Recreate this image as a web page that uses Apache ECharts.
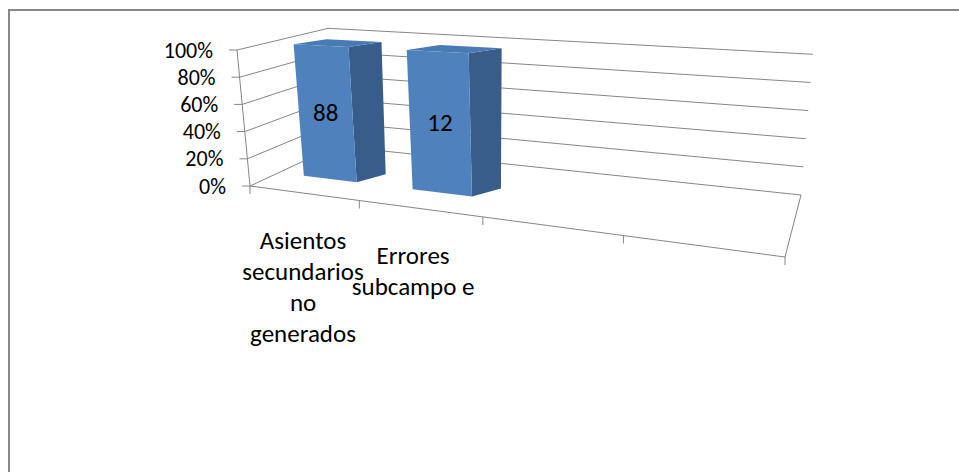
<!DOCTYPE html>
<html><head><meta charset="utf-8">
<script src="https://cdn.jsdelivr.net/npm/echarts@6/dist/echarts.min.js"></script>
<style>html,body{margin:0;padding:0;background:#fff}#c{width:959px;height:472px}</style>
</head><body><div id="c"></div>
<script>
// ---- data ----
const categories = ['Asientos\nsecundarios\nno\ngenerados', 'Errores\nsubcampo e', '', ''];
const dataLabels = [88, 12];          // numbers printed on the bars
const barShares = [100, 100];         // bar height in % (100% stacked column)
const yTicks = [0, 20, 40, 60, 80, 100];

// ---- layout / style ----
const FONT = 'Carlito, Calibri, Lato, sans-serif';
const FS = 25, FS_Y = 22;
const GRID = {left: 250, top: 50, width: 535, height: 136};
// 3D frame: floor plane corners (front-left, front-right, back-right, back-left)
const FLOOR = [[250,186],[785,257],[801,195],[336,146]];
const VVP = [542, 3239];      // vanishing point of verticals
const H_FRONT = 136.6;        // screen height of 100% at front-left corner
const BAR_W = 0.5, Z0 = 0.3;
const DEPTH_BOTTOM = [29,-8], DEPTH_TOP = [33,-5];   // visible depth of the columns

function squareToQuad(q){
  const [x0,y0]=q[0],[x1,y1]=q[1],[x2,y2]=q[2],[x3,y3]=q[3];
  const dx1=x1-x2, dx2=x3-x2, dx3=x0-x1+x2-x3;
  const dy1=y1-y2, dy2=y3-y2, dy3=y0-y1+y2-y3;
  const den=dx1*dy2-dx2*dy1;
  const g=(dx3*dy2-dx2*dy3)/den, h=(dx1*dy3-dx3*dy1)/den;
  const a=x1-x0+g*x1, b=x3-x0+h*x3, c=x0, d=y1-y0+g*y1, e=y3-y0+h*y3, f=y0;
  return (u,v)=>{const w=g*u+h*v+1; return [(a*u+b*v+c)/w,(d*u+e*v+f)/w,w];};
}
const H0 = squareToQuad(FLOOR);
function proj(u,v,t){
  const p = H0(u,v);
  const len = H_FRONT/p[2]*(1-0.04*u*v);
  const dx = p[0]-VVP[0], dy = p[1]-VVP[1], n = Math.hypot(dx,dy);
  return [p[0]+dx/n*len*t, p[1]+dy/n*len*t];
}
function norm(params, api, cat, val){
  const cs = params.coordSys; const p = api.coord([cat, val]);
  return [(p[0]-cs.x)/cs.width, (cs.y+cs.height-p[1])/cs.height];
}
const add = (p,d)=>[p[0]+d[0], p[1]+d[1]];
const LINE = '#868686';

const chart = echarts.init(document.getElementById('c'), null, {renderer:'svg'});
chart.setOption({
  animation: false,
  backgroundColor: '#fff',
  grid: {left: GRID.left, top: GRID.top, width: GRID.width, height: GRID.height},
  xAxis: {type:'category', data: categories, show:false},
  yAxis: {type:'value', min:0, max:100, interval:20, show:false},
  graphic: [{type:'rect', shape:{x:9, y:10, width:960, height:470}, style:{fill:'none', stroke:'#878787', lineWidth:2}, silent:true}],
  series: [
    { // wall gridlines + y ticks + y labels
      type:'custom', z:1, silent:true,
      data: yTicks.map(t=>[0,t]),
      renderItem(params, api){
        const t = norm(params, api, 0, api.value(1))[1];
        const a = proj(0,0,t), b = proj(0,1,t), c = proj(1,1,t);
        return {type:'group', children:[
          {type:'polyline', shape:{points:[a,b,c]}, style:{stroke:LINE, lineWidth:1, fill:null}},
          {type:'line', shape:{x1:a[0]-8, y1:a[1], x2:a[0], y2:a[1]}, style:{stroke:LINE, lineWidth:1}},
          {type:'text', style:{text: api.value(1)+'%', x:a[0]-24, y:a[1], align:'right', verticalAlign:'middle', lineHeight:24, fontSize:FS_Y, fontFamily:FONT, fill:'#000'}}
        ]};
      }
    },
    { // value axis line and floor edges
      type:'custom', z:2, silent:true,
      data: [[0,0]],
      renderItem(params, api){
        const b = norm(params, api, 0, 0)[1], tp = norm(params, api, 0, 100)[1];
        const p0 = proj(0,0,b), p1 = proj(0,0,tp);
        return {type:'group', children:[
          {type:'line', shape:{x1:p0[0], y1:p0[1], x2:p1[0], y2:p1[1]}, style:{stroke:LINE, lineWidth:1}},
          {type:'polyline', shape:{points:[proj(0,0,b), proj(1,0,b), proj(1,1,b)]}, style:{stroke:LINE, lineWidth:1, fill:null}}
        ]};
      }
    },
    { // category ticks and labels
      type:'custom', z:2, silent:true,
      data: categories.map((c,i)=>[i,0]),
      renderItem(params, api){
        const cs = params.coordSys;
        const i = api.value(0);
        const uc = norm(params, api, i, 0)[0];
        const bw = api.size([1,0])[0]/cs.width;
        const kids = [];
        const tickAt = (u)=>{const p=proj(u,0,0); kids.push({type:'line', shape:{x1:p[0], y1:p[1], x2:p[0], y2:p[1]+8}, style:{stroke:LINE, lineWidth:1}});};
        tickAt(uc-bw/2);
        if (i === categories.length-1) tickAt(uc+bw/2);
        const p = proj(uc,0,0);
        if (categories[i]) kids.push({type:'text', style:{text: categories[i], x:p[0]-(i===1?6:0), y:p[1]+32, align:'center', verticalAlign:'top', lineHeight:31, fontSize:FS, fontFamily:FONT, fill:'#000'}});
        return {type:'group', children:kids};
      }
    },
    { // 3D columns
      type:'custom', z:3, silent:true,
      data: barShares.map((s,i)=>[i,s,dataLabels[i]]),
      renderItem(params, api){
        const cs = params.coordSys;
        const i = api.value(0);
        const [uc, t] = norm(params, api, i, api.value(1));
        const bw = api.size([1,0])[0]/cs.width;
        const u0 = uc - bw*BAR_W/2, u1 = uc + bw*BAR_W/2;
        const lb = proj(u0,Z0,0), rb = proj(u1,Z0,0), rt = proj(u1,Z0,t), lt = proj(u0,Z0,t);
        const front = [lb, rb, rt, lt];
        const side  = [rb, add(rb,DEPTH_BOTTOM), add(rt,DEPTH_TOP), rt];
        const top   = [lt, rt, add(rt,DEPTH_TOP), add(lt,DEPTH_TOP)];
        const cx = (lb[0]+rb[0]+rt[0]+lt[0])/4;
        const cy = (lb[1]+rb[1]+rt[1]+lt[1])/4;
        return {type:'group', children:[
          {type:'polygon', shape:{points:side}, style:{fill:'#385D8A'}},
          {type:'polygon', shape:{points:top}, style:{fill:'#4A7AB4'}},
          {type:'polygon', shape:{points:front}, style:{fill:'#4F81BD'}},
          {type:'text', style:{text:String(api.value(2)), x:cx, y:cy, align:'center', verticalAlign:'middle', fontSize:FS, fontFamily:FONT, fill:'#000'}}
        ]};
      }
    }
  ]
});
</script></body></html>
